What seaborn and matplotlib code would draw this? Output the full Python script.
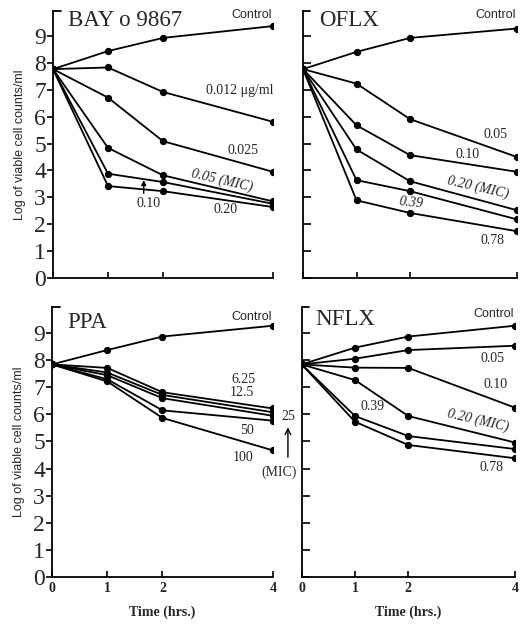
# coding: utf-8
"""
Courbes de bactéricidie (log des cellules viables en fonction du temps)
"""

import pandas as pd
import seaborn as sns
import matplotlib.pyplot as plt

sns.set_style("ticks")
plt.rcParams['font.family'] = ['Liberation Serif', 'DejaVu Serif']

times = [0, 1, 2, 4]
xtick_labels = ['0', '1', '2', '4']

# BAY o 9867
bay_conc = ['Control', '0.012', '0.025', '0.05', '0.10', '0.20']
bay_control = [7.77, 8.44, 8.93, 9.37]
bay_0012 = [7.77, 7.83, 6.92, 5.81]
bay_0025 = [7.77, 6.71, 5.09, 3.95]
bay_005 = [7.77, 4.84, 3.82, 2.85]
bay_010 = [7.77, 3.88, 3.57, 2.76]
bay_020 = [7.77, 3.42, 3.23, 2.64]

# OFLX
oflx_conc = ['Control', '0.05', '0.10', '0.20', '0.39', '0.78']
oflx_control = [7.77, 8.41, 8.93, 9.28]
oflx_005 = [7.77, 7.23, 5.91, 4.50]
oflx_010 = [7.77, 5.68, 4.57, 3.95]
oflx_020 = [7.77, 4.78, 3.60, 2.52]
oflx_039 = [7.77, 3.64, 3.23, 2.18]
oflx_078 = [7.77, 2.89, 2.42, 1.74]

# PPA
ppa_conc = ['Control', '6.25', '12.5', '25', '50', '100']
ppa_control = [7.85, 8.38, 8.88, 9.28]
ppa_625 = [7.85, 7.72, 6.82, 6.22]
ppa_125 = [7.85, 7.55, 6.72, 6.08]
ppa_25 = [7.85, 7.45, 6.60, 5.95]
ppa_50 = [7.85, 7.30, 6.15, 5.77]
ppa_100 = [7.85, 7.22, 5.87, 4.67]

# NFLX
nflx_conc = ['Control', '0.05', '0.10', '0.20', '0.39', '0.78']
nflx_control = [7.85, 8.47, 8.88, 9.28]
nflx_005 = [7.85, 8.06, 8.38, 8.54]
nflx_010 = [7.85, 7.73, 7.72, 6.25]
nflx_020 = [7.85, 7.27, 5.94, 4.96]
nflx_039 = [7.85, 5.94, 5.20, 4.72]
nflx_078 = [7.85, 5.73, 4.87, 4.38]


def to_long(names, series):
    """
    Construit un DataFrame long pour seaborn
    """
    rows = []
    for name, values in zip(names, series):
        for t, v in zip(times, values):
            rows.append({'time': t, 'log_count': v, 'conc': name})
    return pd.DataFrame(rows)


panels = [
    ('BAY o 9867', to_long(bay_conc, [bay_control, bay_0012, bay_0025, bay_005, bay_010, bay_020])),
    ('OFLX', to_long(oflx_conc, [oflx_control, oflx_005, oflx_010, oflx_020, oflx_039, oflx_078])),
    ('PPA', to_long(ppa_conc, [ppa_control, ppa_625, ppa_125, ppa_25, ppa_50, ppa_100])),
    ('NFLX', to_long(nflx_conc, [nflx_control, nflx_005, nflx_010, nflx_020, nflx_039, nflx_078])),
]

fig = plt.figure(figsize=(5.3, 6.3), dpi=100)
rects = [
    [0.100, 0.5587, 0.415, 0.4238],
    [0.5717, 0.5587, 0.4038, 0.4238],
    [0.0981, 0.0846, 0.417, 0.428],
    [0.5692, 0.0846, 0.4025, 0.428],
]
title_pos = [(0.27, 9.38), (0.30, 9.37), (0.27, 9.19), (0.25, 9.31)]
ytops = [9.93, 9.93, 9.97, 9.97]

axes = []
for i, ((name, df), rect) in enumerate(zip(panels, rects)):
    ax = fig.add_axes(rect)
    axes.append(ax)
    sns.lineplot(data=df, x='time', y='log_count', hue='conc', palette=['black'] * 6,
                 marker='o', markersize=4.5, markeredgecolor='black', linewidth=1.3,
                 legend=False, ax=ax)
    ax.set_xlim(0, 4)
    ax.set_ylim(0, ytops[i])
    sns.despine(ax=ax)
    for side in ['left', 'bottom']:
        ax.spines[side].set_linewidth(1.3)
        ax.spines[side].set_color('black')
    ax.set_xticks(times)
    ax.set_yticks(range(10))
    ax.set_xlabel(None)
    ax.set_ylabel(None)
    ax.set_facecolor('white')
    ax.tick_params(axis='x', direction='in', length=4, width=1.2, color='black')
    # petit crochet en haut de l'axe
    ax.plot([0, 0.035], [1, 1], transform=ax.transAxes, color='black', lw=1.3,
            clip_on=False)
    left = i % 2 == 0
    if left:
        ax.tick_params(axis='y', direction='out', length=4, width=1.2, color='black',
                       labelsize=17, pad=1)
        ax.set_ylabel('Log of viable cell counts/ml', family='Liberation Sans',
                      fontsize=9, labelpad=6)
    else:
        ax.tick_params(axis='y', direction='in', length=6, width=1.2, color='black',
                       labelleft=False)
    if i < 2:
        ax.tick_params(axis='x', labelbottom=False)
    else:
        ax.set_xticklabels(xtick_labels, fontsize=10, fontweight='bold')
        ax.set_xlabel('Time (hrs.)', fontsize=10, fontweight='bold', labelpad=8)
    tx, ty = title_pos[i]
    ax.text(tx, ty, name, fontsize=16.5, ha='left', va='baseline')
    ax.text(3.98, ty + 0.42, 'Control', family='Liberation Sans', fontsize=9,
            ha='right', va='center')

small = dict(fontsize=10, ha='center', va='center')
ital = dict(fontsize=10, ha='center', va='center', style='italic')

# BAY o 9867
ax = axes[0]
ax.text(3.4, 6.99, '0.012 μg/ml', clip_on=False, **small)
ax.text(3.45, 4.76, '0.025', **small)
ax.text(3.07, 3.62, '0.05 (MIC)', rotation=-13, **ital)
ax.text(1.73, 2.79, '0.10', **small)
ax.text(3.13, 2.53, '0.20', **small)
ax.annotate('', xy=(1.65, 3.64), xytext=(1.65, 3.15),
            arrowprops=dict(arrowstyle='-|>', color='black', lw=1.0,
                            mutation_scale=7, shrinkA=0, shrinkB=0))

# OFLX
ax = axes[1]
ax.text(3.6, 5.32, '0.05', **small)
ax.text(3.07, 4.61, '0.10', **small)
ax.text(3.27, 3.35, '0.20 (MIC)', rotation=-13, **ital)
ax.text(2.02, 2.79, '0.39', rotation=-6, **ital)
ax.text(3.55, 1.41, '0.78', **small)

# PPA
ax = axes[2]
ax.text(3.46, 7.28, '6.25', **small)
ax.text(3.44, 6.82, '12.5', **small)
ax.text(3.53, 5.39, '50', **small)
ax.text(3.45, 4.39, '100', **small)
ax.text(4.27, 5.93, '25', clip_on=False, **small)
ax.text(4.11, 3.87, '(MIC)', clip_on=False, **small)
ax.annotate('', xy=(4.27, 5.52), xytext=(4.27, 4.42), annotation_clip=False,
            arrowprops=dict(arrowstyle='->', color='black', lw=1.0,
                            mutation_scale=10, shrinkA=0, shrinkB=0))

# NFLX
ax = axes[3]
ax.text(3.57, 8.05, '0.05', **small)
ax.text(3.63, 7.09, '0.10', **small)
ax.text(1.32, 6.31, '0.39', **small)
ax.text(3.3, 5.76, '0.20 (MIC)', rotation=-13, **ital)
ax.text(3.55, 4.02, '0.78', **small)

plt.savefig('out.png', dpi=100)
